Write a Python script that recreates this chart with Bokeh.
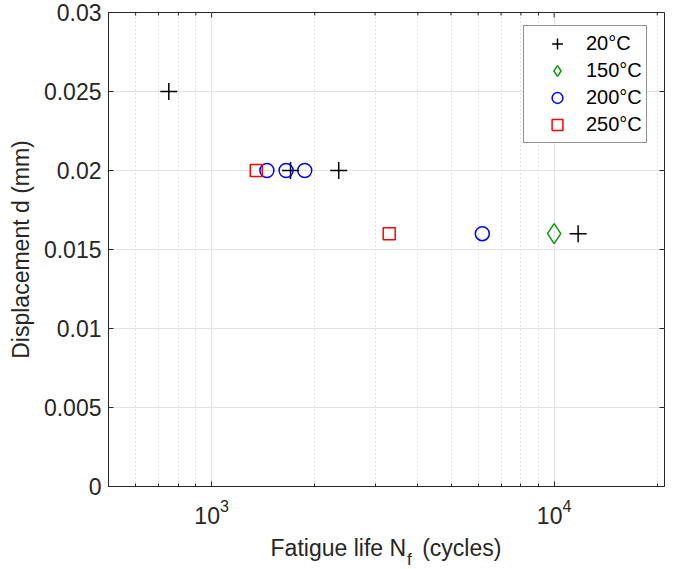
from bokeh.plotting import figure
from bokeh.models import (LinearAxis, Range1d, FixedTicker, LogTickFormatter,
                          Legend, LegendItem, Div)
from bokeh.layouts import column
from bokeh.embed import file_html
from bokeh.resources import INLINE

# ---- data ----
n_20 = [750, 1700, 2350, 11750]
d_20 = [0.025, 0.02, 0.02, 0.016]
n_150 = [10000]
d_150 = [0.016]
n_200 = [1450, 1650, 1870, 6170]
d_200 = [0.02, 0.02, 0.02, 0.016]
n_250 = [1350, 3300]
d_250 = [0.02, 0.016]

series_labels = ["20°C", "150°C", "200°C", "250°C"]
y_ticks = [0, 0.005, 0.01, 0.015, 0.02, 0.025, 0.03]
y_tick_labels = ["0", "0.005", "0.01", "0.015", "0.02", "0.025", "0.03"]
x_major_ticks = [1000, 10000]
x_minor_ticks = [600, 700, 800, 900, 2000, 3000, 4000, 5000, 6000, 7000, 8000, 9000, 20000]
x_lo, x_hi = 500, 21000
y_lo, y_hi = 0, 0.03

FONT = "Liberation Sans"
AX = "#262626"

fig = figure(width=683, height=536, x_axis_type="log",
             x_range=Range1d(x_lo, x_hi), y_range=Range1d(y_lo, y_hi),
             output_backend="svg", toolbar_location=None,
             min_border_left=108, min_border_right=19,
             min_border_top=12, min_border_bottom=50)
fig.outline_line_color = AX
fig.outline_line_width = 1
fig.background_fill_color = "white"
fig.border_fill_color = "white"

xticker = FixedTicker(ticks=x_major_ticks, minor_ticks=x_minor_ticks)
yticker = FixedTicker(ticks=y_ticks)

# grids
fig.xgrid.ticker = xticker
fig.ygrid.ticker = yticker
fig.xgrid.grid_line_color = "#e3e3e3"
fig.ygrid.grid_line_color = "#e3e3e3"
fig.xgrid.minor_grid_line_color = "#c4c4c4"
fig.xgrid.minor_grid_line_dash = "1 3"

# bottom axis
xa = fig.xaxis[0]
xa.ticker = xticker
xa.formatter = LogTickFormatter()
xa.major_label_text_font = FONT
xa.major_label_text_font_size = "23px"
xa.major_label_text_color = AX
xa.major_label_standoff = 12
xa.axis_line_color = AX
xa.major_tick_line_color = AX
xa.minor_tick_line_color = AX
xa.major_tick_in = 5
xa.major_tick_out = 0
xa.minor_tick_in = 3
xa.minor_tick_out = 0

# left axis
ya = fig.yaxis[0]
ya.ticker = yticker
ya.major_label_overrides = dict(zip(y_ticks, y_tick_labels))
ya.major_label_text_font = FONT
ya.major_label_text_font_size = "23px"
ya.major_label_text_color = AX
ya.major_label_standoff = 7
ya.axis_line_color = AX
ya.major_tick_line_color = AX
ya.minor_tick_line_color = None
ya.major_tick_in = 5
ya.major_tick_out = 0
ya.axis_label = "Displacement d (mm)"
ya.axis_label_text_font = FONT
ya.axis_label_text_font_size = "23px"
ya.axis_label_text_font_style = "normal"
ya.axis_label_text_color = AX
ya.axis_label_standoff = 7

# inward ticks on the top and right edges of the box
fig.ray(x=x_major_ticks, y=[y_hi] * len(x_major_ticks), length=5, length_units="screen",
        angle=-90, angle_units="deg", line_color=AX, line_width=1)
fig.ray(x=x_minor_ticks, y=[y_hi] * len(x_minor_ticks), length=3, length_units="screen",
        angle=-90, angle_units="deg", line_color=AX, line_width=1)
fig.ray(x=[x_hi] * len(y_ticks), y=y_ticks, length=5, length_units="screen",
        angle=180, angle_units="deg", line_color=AX, line_width=1)

# data
r20 = fig.scatter(n_20, d_20, marker="cross", size=17, line_color="black", line_width=1.5)
r150 = fig.scatter(n_150, d_150, marker="diamond", size=20, line_color="#0a9a0a",
                   fill_color=None, line_width=1.5)
r200 = fig.scatter(n_200, d_200, marker="circle", size=14, line_color="#0000ff",
                   fill_color=None, line_width=1.5)
r250 = fig.scatter(n_250, d_250, marker="square", size=12, line_color="#ff0000",
                   fill_color=None, line_width=1.5)

legend = Legend(items=[LegendItem(label=series_labels[0], renderers=[r20]),
                       LegendItem(label=series_labels[1], renderers=[r150]),
                       LegendItem(label=series_labels[2], renderers=[r200]),
                       LegendItem(label=series_labels[3], renderers=[r250])],
                location=(415, 343), margin=0, padding=4, spacing=0,
                glyph_width=58, glyph_height=27, label_height=27, label_standoff=0,
                label_text_font=FONT, label_text_font_size="20px",
                label_text_color="black",
                border_line_color=AX, border_line_width=1,
                background_fill_color="white", background_fill_alpha=1)
fig.add_layout(legend, "center")

# x axis label with subscript (HTML text below the plot)
xlabel = Div(text='Fatigue life N<span style="font-size:17px;position:relative;'
                  'top:9px;margin-left:1px;margin-right:4px;">f</span> (cycles)',
             width=556, height=30, margin=(0, 0, 0, 108),
             styles={"font-family": FONT, "font-size": "23px", "color": AX,
                     "text-align": "center", "line-height": "24px"})

p = column(fig, xlabel, spacing=0)

open("out.html", "w").write(file_html(p, INLINE))
